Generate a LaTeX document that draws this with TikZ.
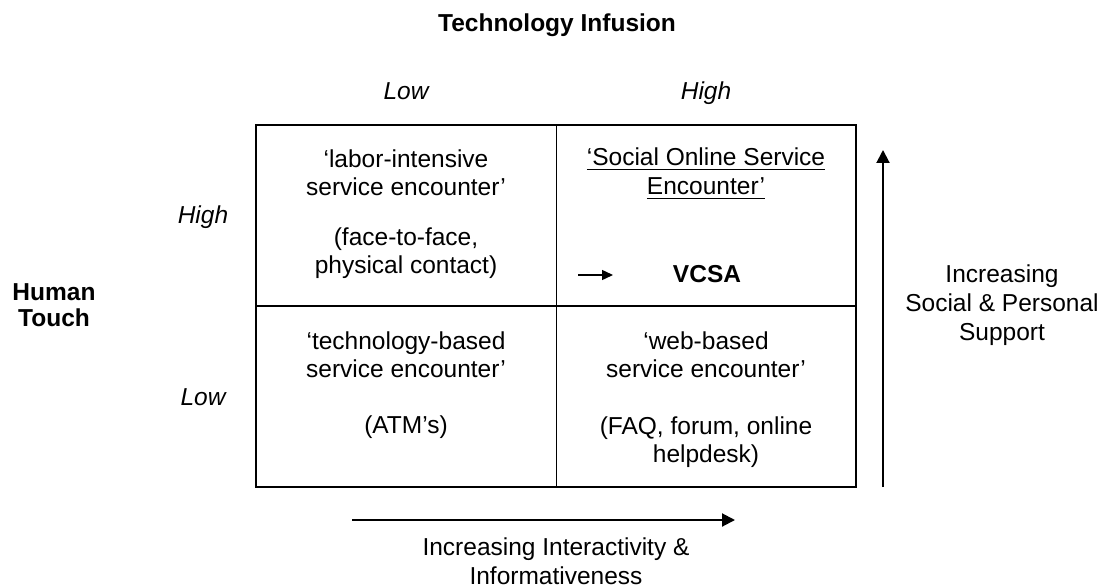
\documentclass[tikz,border=0pt]{standalone}
\usepackage{fontspec}
\setmainfont{Liberation Sans}
\usetikzlibrary{arrows.meta}
\newcommand\ulx[1]{\setbox0=\hbox{#1}\rlap{\rule[-4.5pt]{\wd0}{1.2pt}}\box0}
\begin{document}
\begin{tikzpicture}[x=1pt,y=-1pt,
  lbl/.style={inner sep=0pt,font=\fontsize{24.5}{28}\selectfont},
  blk/.style={lbl,align=center,anchor=north},
  one/.style={lbl,anchor=base},
  heavy/.style={line width=2pt},
  thin/.style={line width=1pt},
  bigarrow/.style={line width=2pt,-{Triangle[length=13pt,width=13pt]}},
  smallarrow/.style={line width=1.4pt,-{Triangle[length=11pt,width=10pt]}}]
\useasboundingbox (0,0) rectangle (1107,588);
% grid
\draw[heavy] (256,125) rectangle (856,487);
\draw[thin] (556,125) -- (556,487);
\draw[heavy] (256,306) -- (856,306);
% headings
\node[one,font=\fontsize{24.5}{28}\selectfont\bfseries] (title) at (557,32) {Technology Infusion};
\node[one,font=\fontsize{24.5}{28}\selectfont\itshape] (tlow) at (406,100) {Low};
\node[one,font=\fontsize{24.5}{28}\selectfont\itshape] (thigh) at (706,100) {High};
\node[one,font=\fontsize{24.5}{28}\selectfont\itshape] (lhigh) at (203,223) {High};
\node[one,font=\fontsize{24.5}{28}\selectfont\itshape] (llow) at (203,405) {Low};
\node[blk,font=\fontsize{24.5}{26}\selectfont\bfseries] (human) at (54,282.4) {\strut Human\\Touch};
% cells
\node[blk] (tl1) at (406,147.4) {\strut ‘labor-intensive\\service encounter’};
\node[blk] (tl2) at (406,225.4) {\strut (face-to-face,\\physical contact)};
\node[blk,font=\fontsize{24.5}{29}\selectfont] (tr1) at (706,145.4) {\strut\ulx{‘Social Online Service}\\\ulx{Encounter’}};
\node[one,font=\fontsize{24.5}{28}\selectfont\bfseries] (vcsa) at (707,282) {VCSA};
\coordinate (va) at (578,275);
\coordinate (vb) at (613,275);
\draw[smallarrow] (va) -- (vb);
\node[blk] (bl1) at (406,329.4) {\strut ‘technology-based\\service encounter’};
\node[one] (bl2) at (406,433) {(ATM’s)};
\node[blk] (br1) at (706,329.4) {\strut ‘web-based\\service encounter’};
\node[blk] (br2) at (706,414.4) {\strut (FAQ, forum, online\\helpdesk)};
% right axis
\coordinate (ra) at (883,487);
\coordinate (rb) at (883,150);
\draw[bigarrow] (ra) -- (rb);
\node[blk,font=\fontsize{24.5}{29}\selectfont] (rlab) at (1002,262.4) {\strut Increasing\\Social \& Personal\\Support};
% bottom axis
\coordinate (ba) at (352,520);
\coordinate (bb) at (735,520);
\draw[bigarrow] (ba) -- (bb);
\node[blk,font=\fontsize{24.5}{29}\selectfont] (blab) at (556,535.4) {\strut Increasing Interactivity \&\\Informativeness};
\end{tikzpicture}
\end{document}
